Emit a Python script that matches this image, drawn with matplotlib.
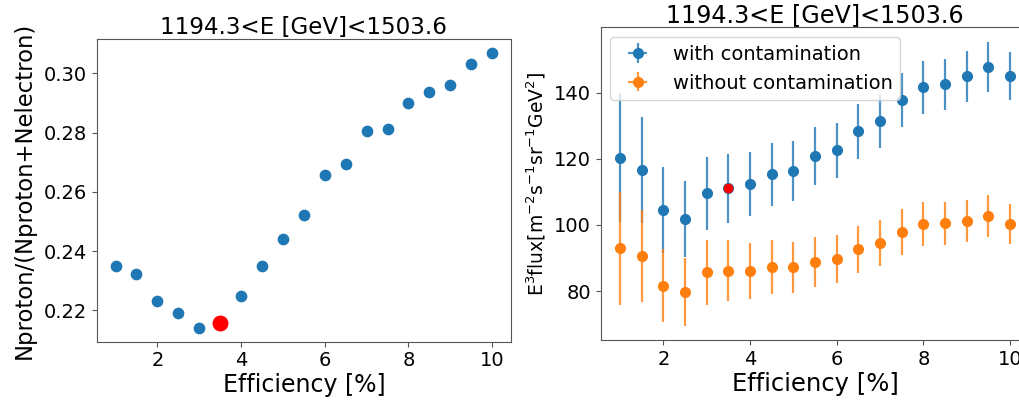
import numpy as np
import matplotlib
matplotlib.use('Agg')
import matplotlib.pyplot as plt

# ================= DATA =================
eff = [1.0, 1.5, 2.0, 2.5, 3.0, 3.5, 4.0, 4.5, 5.0, 5.5,
       6.0, 6.5, 7.0, 7.5, 8.0, 8.5, 9.0, 9.5, 10.0]

ratio = [0.2350, 0.2323, 0.2232, 0.2191, 0.2141, 0.2158, 0.2250, 0.2350, 0.2441, 0.2522,
         0.2656, 0.2693, 0.2806, 0.2813, 0.2899, 0.2937, 0.2962, 0.3032, 0.3069]

flux_with = [120.4, 116.7, 104.5, 101.7, 109.6, 111.1, 112.4, 115.3, 116.4, 120.9,
             122.6, 128.3, 131.4, 137.7, 141.7, 142.5, 145.0, 147.8, 145.1]
err_with = [19.5, 16.0, 13.0, 11.5, 11.0, 10.5, 9.7, 9.5, 9.0, 8.8,
            8.4, 8.3, 8.1, 8.2, 8.0, 7.7, 7.7, 7.7, 7.3]

flux_without = [92.9, 90.6, 81.6, 79.8, 85.7, 86.2, 86.0, 87.2, 87.2, 88.9,
                89.8, 92.6, 94.6, 97.9, 100.4, 100.5, 101.3, 102.8, 100.2]
err_without = [17.0, 14.0, 11.0, 10.3, 9.8, 9.2, 8.5, 8.2, 7.8, 7.6,
               7.3, 7.1, 7.0, 6.9, 6.7, 6.5, 6.3, 6.3, 6.1]

best = 5          # index of the chosen efficiency (3.5 %)
title = '1194.3<E [GeV]<1503.6'

SPINE = '#555555'

fig = plt.figure(figsize=(10.2, 4.01), dpi=100)

def style(ax):
    for s in ax.spines.values():
        s.set_color(SPINE)
    ax.tick_params(labelsize=14, color=SPINE)
    ax.set_xticks([2, 4, 6, 8, 10])

# ================= LEFT: ratio =================
ax1 = fig.add_axes([0.0948, 0.1479, 0.4062, 0.7541])
ax1.scatter(eff, ratio, s=55, color='#1f77b4')
ax1.scatter([eff[best]], [ratio[best]], s=110, color='red', zorder=3)
ax1.set_title(title, fontsize=16.6, pad=3)
ax1.set_xlabel('Efficiency [%]', fontsize=17, labelpad=2)
ax1.set_ylabel('Nproton/(Nproton+Nelectron)', fontsize=16.4, labelpad=6)
style(ax1)

# ================= RIGHT: flux =================
ax2 = fig.add_axes([0.5889, 0.1521, 0.4204, 0.7798])
eb1 = ax2.errorbar(eff, flux_with, yerr=err_with, xerr=0, fmt='o', ms=7, color='#1f77b4',
                   elinewidth=1.6, label='with contamination')
eb2 = ax2.errorbar(eff, flux_without, yerr=err_without, xerr=0, fmt='o', ms=7, color='#ff7f0e',
                   elinewidth=1.6, label='without contamination')
for eb in (eb1, eb2):
    for lc in eb[2]:
        lc.set_alpha(0.8)
ax2.plot([eff[best]], [flux_with[best]], 'o', ms=6, color='red', zorder=4)
ax2.set_title(title, fontsize=17.2, pad=3)
ax2.set_xlabel('Efficiency [%]', fontsize=17.5, labelpad=2)
ax2.set_ylabel(r'E$^3$flux[m$^{-2}$s$^{-1}$sr$^{-1}$GeV$^2$]', fontsize=13.5)
ax2.legend(loc='upper left', fontsize=14)
style(ax2)
ax2.set_yticks([80, 100, 120, 140])

fig.savefig('out.png', dpi=100, facecolor='white')
